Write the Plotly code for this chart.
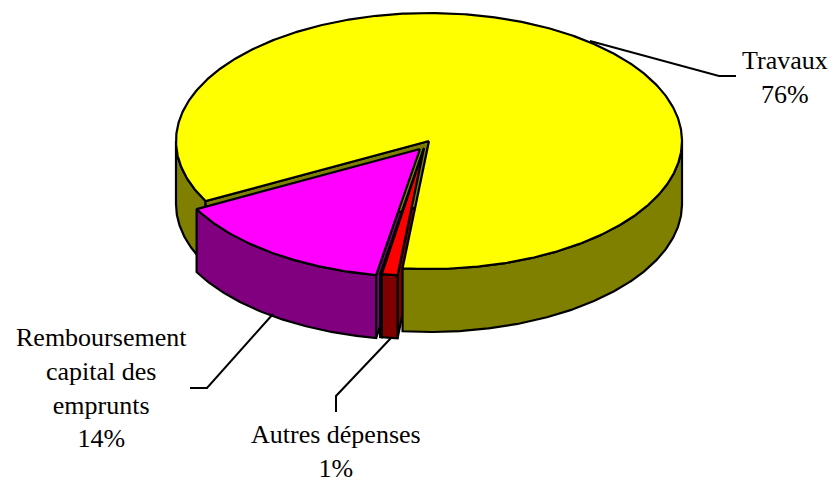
import math
import plotly.graph_objects as go

# Slice data, in drawing order (clockwise from the start angle)
slice_names = ["Travaux", "Autres dépenses", "Autre", "Remboursement<br>capital des<br>emprunts"]
slice_degrees = [304.0, 3.6, 0.4, 52.0]   # angular extents
slice_labels = ["76%", "1%", "", "14%"]
top_colors = ["#FFFF00", "#FF0000", "#400040", "#FF00FF"]
wall_colors = ["#808000", "#800000", "#400040", "#800080"]
explode_px = [(0, 0), (-5, 7), (-5, 7), (-9, 8)]

START = 242.0
CX, CY, RX, RY, DEPTH = 429, 141, 253, 128, 63
LW = 2.2


def pt(a, off=(0, 0), drop=0):
    r = math.radians(a)
    return (CX + off[0] + RX * math.sin(r), CY + off[1] - RY * math.cos(r) + drop)


def arc(a0, a1, off=(0, 0), drop=0):
    n = max(2, int(abs(a1 - a0) * 2))
    return [pt(a0 + (a1 - a0) * i / n, off, drop) for i in range(n + 1)]


angles = []
acc = START
for d in slice_degrees:
    angles.append((acc, acc + d))
    acc += d

fig = go.Figure()


def poly(points, color):
    xs = [p[0] for p in points] + [points[0][0]]
    ys = [p[1] for p in points] + [points[0][1]]
    fig.add_trace(go.Scatter(x=xs, y=ys, mode="lines", fill="toself", fillcolor=color,
                             line=dict(color="black", width=LW), hoverinfo="skip",
                             showlegend=False))


def line(points, width=2):
    fig.add_trace(go.Scatter(x=[p[0] for p in points], y=[p[1] for p in points], mode="lines",
                             line=dict(color="black", width=width), hoverinfo="skip",
                             showlegend=False))


def center(off=(0, 0), drop=0):
    return (CX + off[0], CY + off[1] + drop)


def rim_wall(a0, a1, off, color):
    poly(arc(a0, a1, off) + arc(a1, a0, off, DEPTH), color)


def cut_wall(a, off, color):
    poly([center(off), pt(a, off), pt(a, off, DEPTH), center(off, DEPTH)], color)


y0, y1 = angles[0]

# east-facing cut walls of the pulled-out slices sit behind the main slice's top
for i in (3, 2, 1):
    cut_wall(angles[i][0], explode_px[i], wall_colors[i])

# main slice: rim walls, visible cut wall, top
rim_wall(90 + 360, y1, (0, 0), wall_colors[0])
rim_wall(y0, 270, (0, 0), wall_colors[0])
cut_wall(y0, (0, 0), wall_colors[0])
poly([center()] + arc(y0, y1), top_colors[0])

# pulled-out slices: rim walls then tops
for i in (3, 2, 1):
    a0, a1 = angles[i]
    rim_wall(a0, a1, explode_px[i], wall_colors[i])
for i in (3, 2, 1):
    a0, a1 = angles[i]
    poly([center(explode_px[i])] + arc(a0, a1, explode_px[i]), top_colors[i])

# leader lines
line([(590, 41), (719, 76), (736, 76)])
line([(273, 314), (207, 388), (190, 388)])
line([(391, 338), (336, 396), (336, 412)])

ann = [
    (0, 785, 77),
    (3, 101, 388),
    (1, 336, 451),
]
for i, x, y in ann:
    fig.add_annotation(x=x, y=y, text=f"{slice_names[i]}<br>{slice_labels[i]}", showarrow=False,
                       font=dict(family="Liberation Serif", size=26, color="#000000"),
                       xanchor="center", yanchor="middle", align="center")

fig.update_layout(
    width=834, height=479, margin=dict(l=0, r=0, t=0, b=0),
    paper_bgcolor="white", plot_bgcolor="white", showlegend=False,
    xaxis=dict(range=[0, 834], visible=False, fixedrange=True),
    yaxis=dict(range=[479, 0], visible=False, fixedrange=True),
)
fig.write_html("out.html", config={"displayModeBar": False},
               post_script="document.body.style.margin='0';document.body.style.overflow='hidden';")
